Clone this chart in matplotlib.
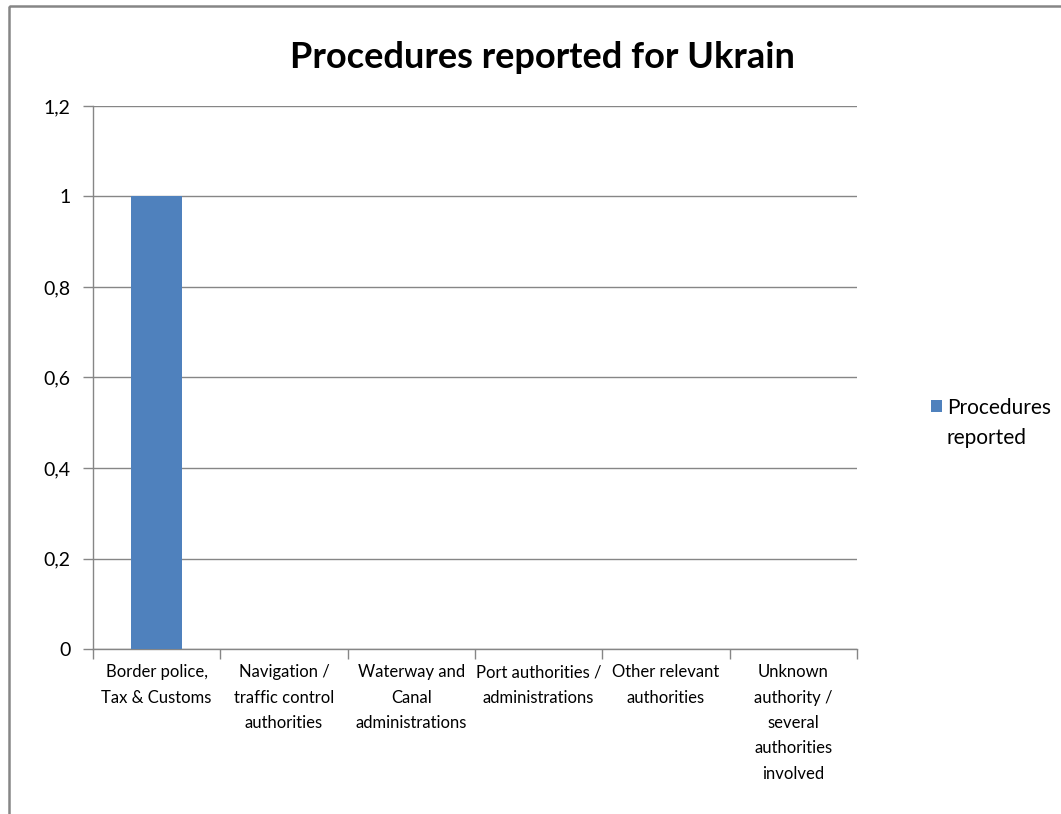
import matplotlib
matplotlib.use("Agg")
import matplotlib.pyplot as plt
from matplotlib.patches import Rectangle
from matplotlib.ticker import FuncFormatter, FixedLocator

categories = ["Border police,\nTax & Customs", "Navigation /\ntraffic control\nauthorities",
              "Waterway and\nCanal\nadministrations", "Port authorities /\nadministrations",
              "Other relevant\nauthorities", "Unknown\nauthority /\nseveral\nauthorities\ninvolved"]
values = [1, 0, 0, 0, 0, 0]
yticks = [0, 0.2, 0.4, 0.6, 0.8, 1.0, 1.2]
series_name = "Procedures\nreported"
title = "Procedures reported for Ukrain"
bar_color = '#4F81BD'

FONT = ['Lato', 'DejaVu Sans']
plt.rcParams['font.family'] = FONT

W, H = 1061, 814
fig = plt.figure(figsize=(W/100, H/100), dpi=100)
fig.patch.set_facecolor('white')

# outer chart border
fig.patches.append(Rectangle((9/W, 1 - 6/H), 2, -2, transform=fig.transFigure,
                             fill=False, edgecolor='#868686', linewidth=1.8))

ax = fig.add_axes([93/W, 1 - 649/H, (857-93)/W, (649-106)/H])
x = list(range(len(categories)))
bars = ax.bar(x, values, width=0.4, color=bar_color, zorder=3, label=series_name)
ax.set_xlim(-0.5, len(categories) - 0.5)
ax.set_ylim(0, 1.2)
ax.set_yticks(yticks)
ax.yaxis.set_major_formatter(FuncFormatter(lambda v, p: ('%g' % round(v, 1)).replace('.', ',')))
ax.grid(axis='y', color='#868686', linewidth=1.0, zorder=0)
for s in ['top', 'right']:
    ax.spines[s].set_visible(False)
for s in ['left', 'bottom']:
    ax.spines[s].set_color('#868686')
    ax.spines[s].set_linewidth(1.0)
ax.set_xticks(x)
ax.set_xticklabels(categories, fontsize=12)
for t in ax.get_xticklabels():
    t.set_linespacing(1.72)
ax.xaxis.set_minor_locator(FixedLocator([i - 0.5 for i in range(len(categories) + 1)]))
ax.tick_params(axis='x', which='major', length=0, pad=11)
ax.tick_params(axis='x', which='minor', length=7, color='#868686', width=1.0)
ax.tick_params(axis='y', length=7, color='#868686', width=1.0, labelsize=14, pad=9)

fig.text(542/W, 1 - 57/H, title, ha='center', va='center', fontsize=26, fontweight='bold')

# legend (square aligned with the first line of the label)
fig.patches.append(Rectangle((931/W, 1 - 412/H), 11/W, 12/H, transform=fig.transFigure,
                             facecolor=bar_color, edgecolor='none'))
fig.text(947/W, 1 - 398/H, series_name, ha='left', va='top', fontsize=15, linespacing=1.6)

fig.savefig('out.png', dpi=100)
